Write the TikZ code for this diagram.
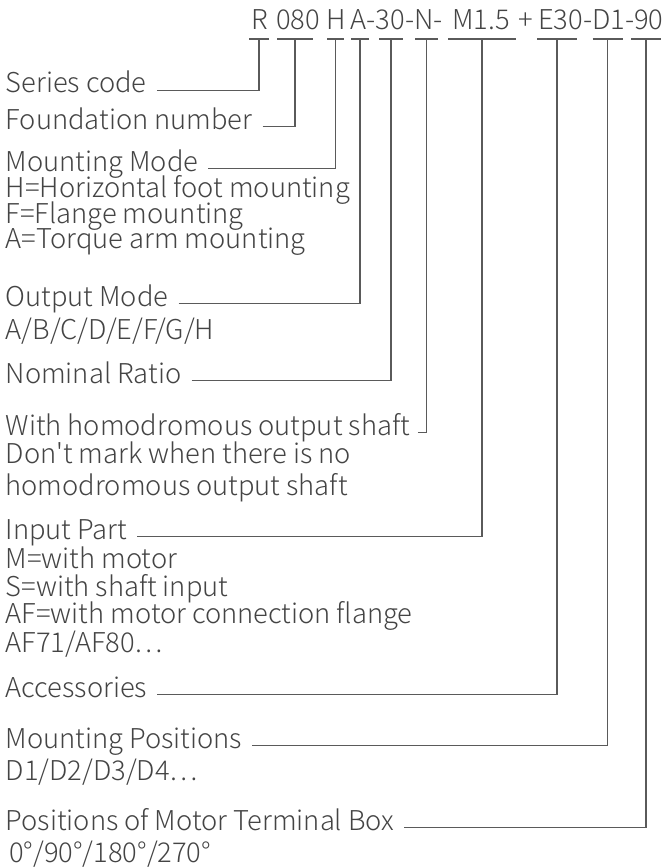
\documentclass[tikz,border=0pt]{standalone}
\usepackage{fontspec}
\IfFontExistsTF{Noto Sans CJK SC Light}{\newfontfamily\lblfont{Noto Sans CJK SC Light}}{\newfontfamily\lblfont{Noto Sans CJK SC}}
\definecolor{txtc}{HTML}{444444}
\definecolor{lnc}{HTML}{5A5A5A}
\begin{document}
\begin{tikzpicture}[x=1pt,y=-1pt,
  lbl/.style={anchor=base west, inner sep=0pt, text=txtc, font=\lblfont\fontsize{27.3}{30}\selectfont},
  conn/.style={draw=lnc, line width=1.2pt}]
\useasboundingbox (0,0) rectangle (671,868);
% code segments
\node[lbl] (kR) at (251.7,29.3) {R};
\node[lbl] (k080) at (276,29.3) {080};
\node[lbl] (kH) at (326.5,29.3) {H};
\node[lbl] (kA) at (350.5,29.3) {A-30-N-};
\node[lbl] (kM) at (452,29.3) {M1.5};
\node[lbl] (kP) at (518.5,29.3) {+};
\node[lbl] (kE) at (538,29.3) {E30-D1-90};
% bar centres
\coordinate (bR) at (259,39);
\coordinate (b080) at (295,39);
\coordinate (bH) at (335.5,39);
\coordinate (bA) at (360,39);
\coordinate (b30) at (391,39);
\coordinate (bN) at (426.5,39);
\coordinate (bM) at (482,39);
\coordinate (bE) at (557,39);
\coordinate (bD) at (607.5,39);
\coordinate (b90) at (646,39);
\draw[conn] ([xshift=-10pt]bR) -- ([xshift=10pt]bR);
\draw[conn] ([xshift=-18pt]b080) -- ([xshift=18pt]b080);
\draw[conn] ([xshift=-8.5pt]bH) -- ([xshift=8.5pt]bH);
\draw[conn] ([xshift=-9pt]bA) -- ([xshift=9pt]bA);
\draw[conn] ([xshift=-12pt]b30) -- ([xshift=12pt]b30);
\draw[conn] ([xshift=-11.5pt]bN) -- ([xshift=11.5pt]bN);
\draw[conn] ([xshift=-34pt]bM) -- ([xshift=34pt]bM);
\draw[conn] ([xshift=-20pt]bE) -- ([xshift=20pt]bE);
\draw[conn] ([xshift=-15pt]bD) -- ([xshift=15pt]bD);
\draw[conn] ([xshift=-15pt]b90) -- ([xshift=15pt]b90);
% labels
\node[lbl] (l1) at (5.5,92.5) {Series code};
\node[lbl] (l2) at (5.5,129) {Foundation number};
\node[lbl] (l3) at (5.5,171) {Mounting Mode};
\node[lbl] (l3a) at (5.5,197.5) {H=Horizontal foot mounting};
\node[lbl] (l3b) at (5.5,223) {F=Flange mounting};
\node[lbl] (l3c) at (5.5,248.5) {A=Torque arm mounting};
\node[lbl] (l4) at (5.5,306) {Output Mode};
\node[lbl] (l4a) at (5.5,339) {A/B/C/D/E/F/G/H};
\node[lbl] (l5) at (5.5,383) {Nominal Ratio};
\node[lbl] (l6) at (5.5,435) {With homodromous output shaft};
\node[lbl] (l6a) at (5.5,463) {Don't mark when there is no};
\node[lbl] (l6b) at (5.5,495) {homodromous output shaft};
\node[lbl] (l7) at (5.5,539) {Input Part};
\node[lbl] (l7a) at (5.5,568) {M=with motor};
\node[lbl] (l7b) at (5.5,596) {S=with shaft input};
\node[lbl] (l7c) at (5.5,623) {AF=with motor connection flange};
\node[lbl] (l7d) at (5.5,652) {AF71/AF80…};
\node[lbl] (l8) at (5.5,697) {Accessories};
\node[lbl] (l9) at (5.5,748) {Mounting Positions};
\node[lbl] (l9a) at (5.5,780) {D1/D2/D3/D4…};
\node[lbl] (l10) at (5.5,830) {Positions of Motor Terminal Box};
\node[lbl] (l10a) at (9,862) {0°/90°/180°/270°};
% connectors
\draw[conn] ([xshift=10pt]l1.mid east) -| (bR);
\draw[conn] ([xshift=10pt]l2.mid east) -| (b080);
\draw[conn] ([xshift=10pt]l3.mid east) -| (bH);
\draw[conn] ([xshift=10pt]l4.mid east) -| (bA);
\draw[conn] ([xshift=10pt]l5.mid east) -| (b30);
\draw[conn] ([xshift=8pt]l6.mid east) -| (bN);
\draw[conn] ([xshift=10pt]l7.mid east) -| (bM);
\draw[conn] ([xshift=10pt]l8.mid east) -| (bE);
\draw[conn] ([xshift=10pt]l9.mid east) -| (bD);
\draw[conn] ([xshift=10pt]l10.mid east) -| (b90);
\end{tikzpicture}
\end{document}
